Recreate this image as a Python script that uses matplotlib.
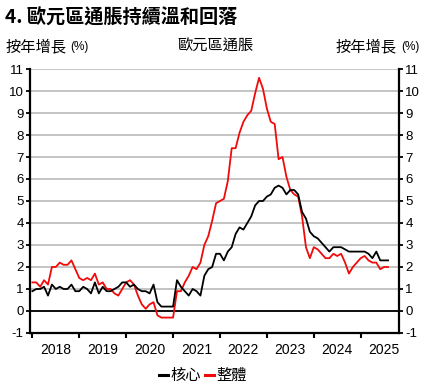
import matplotlib
matplotlib.use("Agg")
import matplotlib.pyplot as plt
import numpy as np

# ── 資料 (Dec 2017 – Jul 2025, 按年增長 %) ─────────────────────────────
years = ["2018", "2019", "2020", "2021", "2022", "2023", "2024", "2025"]

core = [0.9,
        1.0, 1.0, 1.1, 0.7, 1.2, 1.0, 1.1, 1.0, 1.0, 1.2, 0.9, 0.9,
        1.1, 1.0, 0.8, 1.3, 0.8, 1.1, 0.9, 0.9, 1.0, 1.1, 1.3, 1.3,
        1.1, 1.2, 1.0, 0.9, 0.9, 0.8, 1.2, 0.4, 0.2, 0.2, 0.2, 0.2,
        1.4, 1.1, 0.9, 0.7, 1.0, 0.9, 0.7, 1.6, 1.9, 2.0, 2.6, 2.6,
        2.3, 2.7, 2.9, 3.5, 3.8, 3.7, 4.0, 4.3, 4.8, 5.0, 5.0, 5.2,
        5.3, 5.6, 5.7, 5.6, 5.3, 5.5, 5.5, 5.3, 4.5, 4.2, 3.6, 3.4,
        3.3, 3.1, 2.9, 2.7, 2.9, 2.9, 2.9, 2.8, 2.7, 2.7, 2.7, 2.7,
        2.7, 2.6, 2.4, 2.7, 2.3, 2.3, 2.3]

headline = [1.3,
            1.3, 1.1, 1.4, 1.2, 2.0, 2.0, 2.2, 2.1, 2.1, 2.3, 1.9, 1.5,
            1.4, 1.5, 1.4, 1.7, 1.2, 1.3, 1.0, 1.0, 0.8, 0.7, 1.0, 1.3,
            1.4, 1.2, 0.7, 0.3, 0.1, 0.3, 0.4, -0.2, -0.3, -0.3, -0.3, -0.3,
            0.9, 0.9, 1.3, 1.6, 2.0, 1.9, 2.2, 3.0, 3.4, 4.1, 4.9, 5.0,
            5.1, 5.9, 7.4, 7.4, 8.1, 8.6, 8.9, 9.1, 9.9, 10.6, 10.1, 9.2,
            8.6, 8.5, 6.9, 7.0, 6.1, 5.5, 5.3, 5.2, 4.3, 2.9, 2.4, 2.9,
            2.8, 2.6, 2.4, 2.4, 2.6, 2.5, 2.6, 2.2, 1.7, 2.0, 2.2, 2.4,
            2.5, 2.3, 2.2, 2.2, 1.9, 2.0, 2.0]

CJK = ["Noto Sans CJK TC", "DejaVu Sans"]
NUM = ["Liberation Sans", "DejaVu Sans"]
RED = "#f00a0a"
GRID = "#c4c4c4"

fig = plt.figure(figsize=(4.27, 3.89), dpi=100)
ax = fig.add_axes([0.0703, 0.1440, 0.8641, 0.6786])

x = np.arange(len(core))
for v in range(-1, 12):
    ax.axhline(v, color=GRID, lw=1.4, zorder=1)
ax.axhline(0, color="black", lw=1.3, zorder=2)

ax.plot(x, core, color="black", lw=1.3, zorder=4, label="核心")
ax.plot(x, headline, color=RED, lw=1.3, zorder=3, label="整體")

ax.set_xlim(-0.6, 93.8)
ax.set_ylim(-1, 11)

ax.set_yticks(range(-1, 12))
ax.set_yticklabels([str(v) for v in range(-1, 12)], family=NUM, fontsize=9.5)
ax.tick_params(axis="y", which="major", left=True, right=True,
               labelleft=True, labelright=True, direction="out",
               length=3, width=1.3, pad=1.5)

ax.set_xticks(np.arange(0, 85, 12))
ax.set_xticklabels([])
ax.set_xticks(np.arange(6, 91, 12), minor=True)
ax.set_xticklabels(years, minor=True, family=NUM, fontsize=10)
ax.tick_params(axis="x", which="major", direction="out", length=3.5, width=1.5)
ax.tick_params(axis="x", which="minor", length=0, pad=7)

for s in ax.spines.values():
    s.set_linewidth(1.6)
ax.spines["top"].set_visible(False)

fig.text(0.012, 0.955, "4. 歐元區通脹持續溫和回落", family=CJK,
         fontsize=13.8, fontweight="bold", ha="left", va="center")

# 左右軸標題: "(%)" 字體較小
t_left = fig.text(0.012, 0.88, "按年增長", family=CJK, fontsize=11,
                  ha="left", va="center")
ax.annotate("(%)", xy=(1, 0.5), xycoords=t_left, xytext=(3, 0),
            textcoords="offset points", family=NUM, fontsize=8.5,
            ha="left", va="center")
fig.text(0.505, 0.88, "歐元區通脹", family=CJK, fontsize=11,
         ha="center", va="center")
t_pct = fig.text(0.982, 0.88, "(%)", family=NUM, fontsize=8.5,
                 ha="right", va="center")
ax.annotate("按年增長", xy=(0, 0.5), xycoords=t_pct, xytext=(-3, 0),
            textcoords="offset points", family=CJK, fontsize=11,
            ha="right", va="center")

leg = fig.legend(loc="center", bbox_to_anchor=(0.475, 0.035), ncol=2,
                 frameon=False, handlelength=0.6, handletextpad=0.15,
                 columnspacing=0.3, prop={"family": CJK, "size": 11})
for h in leg.get_lines():
    h.set_linewidth(2.2)

fig.savefig("out.png", dpi=100, facecolor="white")
